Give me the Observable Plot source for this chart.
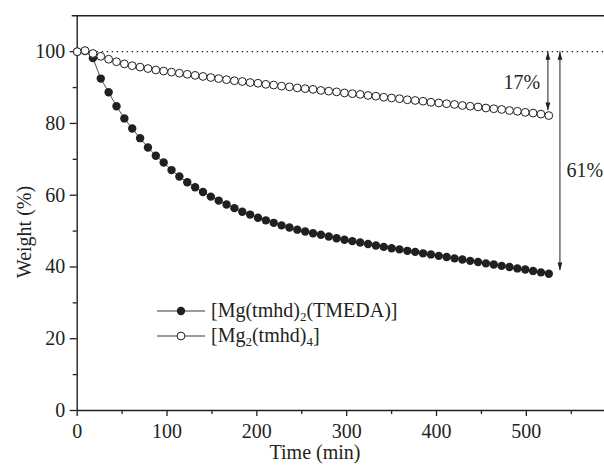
<!DOCTYPE html>
<html><head><meta charset="utf-8">
<script src="https://cdn.jsdelivr.net/npm/d3@7"></script>
<script src="https://cdn.jsdelivr.net/npm/@observablehq/plot@0.6"></script>
<style>body{margin:0;background:#fff}</style>
</head><body><div id="chart"></div>
<script>
const times = [0, 8.75, 17.5, 26.25, 35, 43.75, 52.5, 61.25, 70, 78.75, 87.5, 96.25, 105, 113.75, 122.5, 131.25, 140, 148.75, 157.5, 166.25, 175, 183.75, 192.5, 201.25, 210, 218.75, 227.5, 236.25, 245, 253.75, 262.5, 271.25, 280, 288.75, 297.5, 306.25, 315, 323.75, 332.5, 341.25, 350, 358.75, 367.5, 376.25, 385, 393.75, 402.5, 411.25, 420, 428.75, 437.5, 446.25, 455, 463.75, 472.5, 481.25, 490, 498.75, 507.5, 516.25, 525];
const tmedaWeight = [100.0, 100.2, 98.2, 92.5, 88.7, 84.8, 81.4, 78.6, 75.9, 73.3, 71.0, 69.1, 67.0, 65.2, 63.6, 62.2, 60.9, 59.6, 58.5, 57.4, 56.4, 55.4, 54.6, 53.7, 53.0, 52.3, 51.6, 51.0, 50.4, 49.9, 49.4, 49.0, 48.5, 48.0, 47.6, 47.2, 46.8, 46.4, 46.0, 45.6, 45.2, 44.9, 44.5, 44.2, 43.8, 43.5, 43.1, 42.8, 42.4, 42.1, 41.7, 41.4, 41.0, 40.7, 40.3, 40.0, 39.6, 39.3, 38.9, 38.5, 38.1];
const dimerWeight = [100.0, 100.3, 99.5, 98.7, 97.9, 97.2, 96.6, 96.1, 95.7, 95.3, 94.9, 94.6, 94.3, 94.0, 93.7, 93.4, 93.1, 92.8, 92.5, 92.2, 91.9, 91.7, 91.4, 91.2, 90.9, 90.7, 90.4, 90.2, 89.9, 89.7, 89.5, 89.2, 89.0, 88.8, 88.5, 88.3, 88.1, 87.8, 87.6, 87.3, 87.1, 86.9, 86.6, 86.4, 86.2, 85.9, 85.7, 85.5, 85.3, 85.0, 84.8, 84.6, 84.3, 84.1, 83.9, 83.6, 83.4, 83.1, 82.9, 82.6, 82.2];
const xTicks = [0, 100, 200, 300, 400, 500];
const xMinorTicks = [50, 150, 250, 350, 450, 550];
const yTicks = [0, 20, 40, 60, 80, 100];
const yMinorTicks = [10, 30, 50, 70, 90];
const lossLabels = ["17%", "61%"];
const lossArrowX = [524, 537.4];
const lossArrowEnd = [83.6, 39.0];
const lossLabelX = [495, 565];
const lossLabelY = [91.4, 66.9];
const referenceLevel = [100];

const INK = "#231f20";
const FONT = "Liberation Serif, Times New Roman, serif";

const tmeda = times.map((t, i) => ({t, w: tmedaWeight[i]}));
const dimer = times.map((t, i) => ({t, w: dimerWeight[i]}));
const arrows = lossLabels.map((l, i) => ({label: l, x: lossArrowX[i], y1: referenceLevel[0], y2: lossArrowEnd[i], lx: lossLabelX[i], ly: lossLabelY[i]}));

const arrowHead = {draw(ctx) { ctx.moveTo(0, 0); ctx.lineTo(-2.4, 8); ctx.lineTo(2.4, 8); ctx.closePath(); }};

const chart = Plot.plot({
  width: 604, height: 467,
  marginLeft: 76.7, marginRight: 0, marginTop: 15.3, marginBottom: 57,
  style: {fontFamily: FONT, fontSize: "20px", color: INK, background: "#fff"},
  x: {domain: [0, 587]},
  y: {domain: [0, 110]},
  marks: [
    Plot.ruleY(referenceLevel, {stroke: INK, strokeWidth: 1.2, strokeDasharray: "1.4,3.6"}),
    Plot.axisX(xTicks, {tickSize: 6, tickPadding: 7, fontSize: 20, label: null, strokeWidth: 1.3}),
    Plot.axisX(xMinorTicks, {tickSize: 4, tickFormat: () => "", label: null, strokeWidth: 1.3}),
    Plot.axisY(yTicks, {tickSize: 7, tickPadding: 5, fontSize: 20, label: null, strokeWidth: 1.3}),
    Plot.axisY(yMinorTicks, {tickSize: 4, tickFormat: () => "", label: null, strokeWidth: 1.3}),
    Plot.ruleY([0], {stroke: INK, strokeWidth: 1.4}),
    Plot.ruleY([110], {stroke: INK, strokeWidth: 1.4, insetLeft: -5}),
    Plot.ruleX([0], {stroke: INK, strokeWidth: 1.4}),
    Plot.line(tmeda, {x: "t", y: "w", stroke: INK, strokeWidth: 0.8}),
    Plot.dot(tmeda, {x: "t", y: "w", r: 4.2, fill: INK, stroke: "none"}),
    Plot.line(dimer, {x: "t", y: "w", stroke: INK, strokeWidth: 0.8}),
    Plot.dot(dimer, {x: "t", y: "w", r: 3.9, fill: "white", stroke: INK, strokeWidth: 1}),
    Plot.ruleX(arrows, {x: "x", y1: "y1", y2: "y2", stroke: INK, strokeWidth: 1}),
    Plot.dot(arrows, {x: "x", y: "y1", symbol: arrowHead, r: 2, fill: INK, stroke: "none"}),
    Plot.dot(arrows, {x: "x", y: "y2", symbol: arrowHead, r: 2, rotate: 180, fill: INK, stroke: "none"}),
    Plot.text(arrows, {x: "lx", y: "ly", text: "label", fontSize: 20, fill: INK})
  ]
});
document.getElementById("chart").appendChild(chart);

const svg = d3.select(chart);
const g = svg.append("g").attr("font-family", FONT).attr("font-size", 20).attr("fill", INK);
// axis titles
g.append("text").attr("x", 315).attr("y", 459).attr("text-anchor", "middle").text("Time (min)");
g.append("text").attr("transform", "translate(31,232) rotate(-90)").attr("text-anchor", "middle").text("Weight (%)");
// legend
const legendRows = [
  {parts: [["[Mg(tmhd)", 0], ["2", 1], ["(TMEDA)]", 0]], filled: true, y: 311},
  {parts: [["[Mg", 0], ["2", 1], ["(tmhd)", 0], ["4", 1], ["]", 0]], filled: false, y: 336}
];
legendRows.forEach(row => {
  g.append("line").attr("x1", 157).attr("x2", 205).attr("y1", row.y).attr("y2", row.y).attr("stroke", INK).attr("stroke-width", 0.9);
  g.append("circle").attr("cx", 181).attr("cy", row.y).attr("r", row.filled ? 4.2 : 3.9)
    .attr("fill", row.filled ? INK : "white").attr("stroke", INK).attr("stroke-width", row.filled ? 0 : 1);
  const t = g.append("text").attr("x", 211).attr("y", row.y + 6).attr("text-anchor", "start");
  let sub = false;
  row.parts.forEach(([s, isSub]) => {
    const ts = t.append("tspan").text(s);
    if (isSub && !sub) { ts.attr("dy", 4).attr("font-size", 13); sub = true; }
    else if (!isSub && sub) { ts.attr("dy", -4); sub = false; }
    else if (isSub) ts.attr("font-size", 13);
  });
});
</script>
</body></html>
